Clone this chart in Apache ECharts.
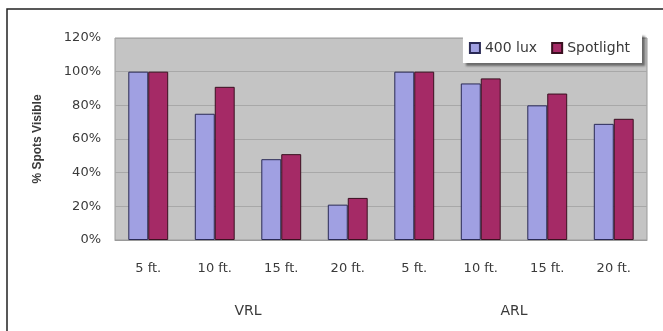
<!DOCTYPE html>
<html>
<head>
<meta charset="utf-8">
<script src="https://cdn.jsdelivr.net/npm/echarts@6/dist/echarts.min.js"></script>
<style>
  html, body { margin: 0; padding: 0; background: #fff; }
  #chart { width: 663px; height: 331px; }
</style>
</head>
<body>
<div id="chart"></div>
<script>
// 数据
const distances = ['5 ft.', '10 ft.', '15 ft.', '20 ft.', '5 ft.', '10 ft.', '15 ft.', '20 ft.'];
const groups = ['VRL', 'ARL'];
const lux400 = [100, 75, 48, 21, 100, 93, 80, 69];
const spotlight = [100, 91, 51, 25, 100, 96, 87, 72];

const chart = echarts.init(document.getElementById('chart'));

const option = {
    animation: false,
    textStyle: { fontFamily: 'DejaVu Sans, Arial, sans-serif' },
    graphic: [{
        // 外框（右边和底边在画面之外）
        type: 'rect',
        shape: { x: 7, y: 9, width: 720, height: 400 },
        style: { fill: 'none', stroke: '#222', lineWidth: 1.5 },
        silent: true
    }],
    grid: {
        left: 115, right: 16, top: 38, bottom: 91,
        show: true,
        backgroundColor: '#c4c4c4',
        borderColor: '#9a9a9a',
        borderWidth: 1
    },
    legend: {
        right: 21, top: 33,
        padding: [8, 12, 8, 6],
        backgroundColor: '#fff',
        shadowColor: 'rgba(0,0,0,0.45)',
        shadowOffsetX: 3, shadowOffsetY: 3, shadowBlur: 2,
        itemWidth: 10, itemHeight: 10, itemGap: 14,
        icon: 'rect',
        textStyle: { fontSize: 14, color: '#3a3a3a', padding: [0, 0, 0, 0] },
        data: ['400 lux', 'Spotlight']
    },
    xAxis: [{
        type: 'category',
        data: distances,
        axisLine: { lineStyle: { color: '#9a9a9a' } },
        axisTick: { show: false },
        axisLabel: { color: '#3a3a3a', fontSize: 13, margin: 22 }
    }, {
        type: 'category',
        data: groups,
        position: 'bottom',
        offset: 56,
        axisLine: { show: false },
        axisTick: { show: false },
        axisLabel: { color: '#3a3a3a', fontSize: 14 }
    }],
    yAxis: {
        type: 'value',
        min: 0, max: 120, interval: 20,
        name: '% Spots Visible',
        nameLocation: 'middle',
        nameGap: 71,
        nameTextStyle: { color: '#3a3a3a', fontSize: 12, fontWeight: 'bold', fontFamily: 'Liberation Sans, Arial, sans-serif' },
        axisLine: { show: false },
        axisTick: { show: false },
        axisLabel: { color: '#3a3a3a', fontSize: 13, margin: 14, formatter: '{value}%' },
        splitLine: { lineStyle: { color: '#a8a8a8', width: 1 } }
    },
    series: [{
        name: '400 lux',
        type: 'bar',
        data: lux400,
        barGap: '0%',
        barCategoryGap: '40%',
        itemStyle: { color: '#a0a0e2', borderColor: '#2a2a55', borderWidth: 1 }
    }, {
        name: 'Spotlight',
        type: 'bar',
        data: spotlight,
        itemStyle: { color: '#a52a66', borderColor: '#3a1020', borderWidth: 1 }
    }]
};

chart.setOption(option);
</script>
</body>
</html>
